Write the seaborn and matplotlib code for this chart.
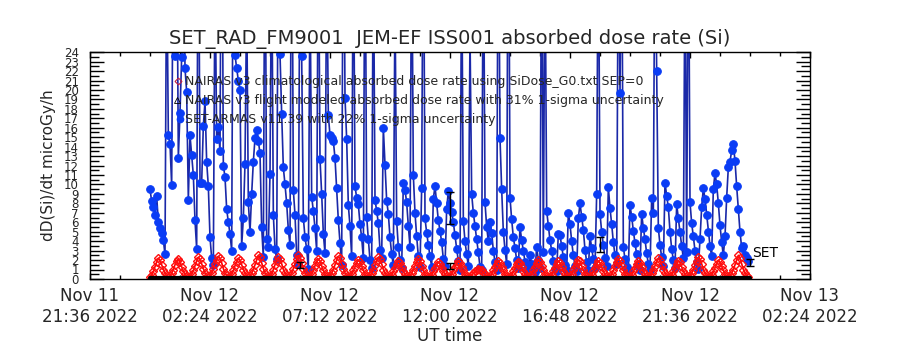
import pandas as pd
import matplotlib
matplotlib.use("Agg")
import matplotlib.pyplot as plt
import matplotlib.dates as mdates
from matplotlib.ticker import FixedLocator, MultipleLocator
import seaborn as sns

title = "SET_RAD_FM9001  JEM-EF ISS001 absorbed dose rate (Si)"
legend_labels = [
    "NAIRAS v3 climatological absorbed dose rate using SiDose_G0.txt SEP=0",
    "NAIRAS v3 flight modeled absorbed dose rate with 31% 1-sigma uncertainty",
    "SET-ARMAS v11.39 with 22% 1-sigma uncertainty",
]
x_ticks = ["2022-11-11 21:36", "2022-11-12 02:24", "2022-11-12 07:12", "2022-11-12 12:00",
           "2022-11-12 16:48", "2022-11-12 21:36", "2022-11-13 02:24"]
y_ticks = list(range(0, 25))

# SET-ARMAS dose rate, 4 min cadence starting Nov 12 00:00 (one row per hour)
set_start = "2022-11-12 00:00"
set_dose = [
    9.5, 8.2, 7.6, 6.8, 8.8, 6.0, 5.4, 4.9, 4.1, 2.6, 35, 15.2, 14.3, 9.9, 40,
    23.6, 40, 12.8, 17.6, 23.5, 38, 22.3, 19.8, 8.4, 15.2, 13.1, 11.0, 6.2, 3.2, 45,
    10.2, 10.2, 16.2, 18.8, 12.4, 9.8, 4.4, 2.2, 1.5, 33, 14.8, 16.1, 13.5, 50, 12.0,
    10.8, 7.4, 6.0, 4.8, 3.0, 42, 23.7, 22.3, 21.0, 20.0, 3.5, 6.4, 12.2, 30, 8.1,
    5.0, 9.0, 12.4, 14.9, 15.8, 14.6, 13.3, 5.5, 2.3, 44, 4.2, 3.4, 11.1, 36, 6.8,
    3.2, 2.1, 40, 23.8, 17.5, 11.8, 10.0, 8.0, 5.2, 3.6, 48, 9.4, 6.8, 2.5, 1.6,
    38, 23.6, 6.5, 4.4, 3.2, 1.1, 32, 8.7, 7.2, 5.4, 3.0, 40, 12.7, 9.0, 4.8,
    2.7, 35, 17.3, 15.2, 14.9, 14.6, 12.8, 9.6, 6.2, 3.8, 1.5, 46, 19.2, 14.8, 7.8,
    5.6, 2.4, 40, 9.8, 8.6, 7.9, 5.8, 4.4, 2.2, 42, 6.6, 4.2, 2.0, 1.2, 37,
    8.4, 7.2, 5.9, 3.1, 2.2, 16.0, 12.1, 8.3, 6.9, 4.4, 2.6, 1.5, 30, 6.1, 3.4,
    2.0, 1.2, 10.2, 9.4, 8.1, 5.6, 3.4, 38, 11.0, 7.0, 4.5, 2.4, 1.3, 9.6, 44,
    6.4, 4.9, 3.6, 2.4, 1.3, 8.5, 9.8, 8.0, 6.2, 5.1, 3.9, 2.1, 1.4, 7.4, 9.3,
    8.0, 7.1, 6.0, 4.6, 3.2, 1.9, 1.0, 35, 6.1, 4.0, 2.6, 1.4, 26, 9.0, 7.0,
    5.6, 4.2, 2.8, 1.3, 0.9, 40, 8.1, 5.5, 4.0, 6.0, 4.9, 3.0, 1.8, 1.0, 45,
    14.9, 9.5, 5.0, 3.1, 1.6, 50, 8.6, 6.3, 4.4, 3.3, 2.0, 1.2, 5.5, 4.1, 3.0,
    1.8, 1.1, 0.8, 2.5, 1.6, 1.0, 0.7, 3.4, 2.0, 1.2, 40, 2.9, 36, 7.2, 5.6,
    4.1, 3.0, 1.9, 1.1, 0.8, 4.8, 4.6, 3.5, 2.3, 1.5, 0.9, 7.0, 5.8, 4.0, 2.5,
    1.4, 0.8, 6.4, 8.0, 6.6, 5.2, 3.1, 1.8, 1.0, 4.5, 3.3, 2.1, 1.2, 9.0, 40,
    6.9, 5.0, 3.6, 2.2, 1.4, 9.7, 7.5, 5.8, 3.9, 2.5, 1.6, 38, 19.7, 40, 3.4,
    2.1, 1.3, 0.9, 7.8, 6.6, 5.1, 3.8, 2.6, 1.5, 1.0, 6.9, 5.4, 4.2, 2.7, 1.6,
    1.0, 8.6, 7.0, 40, 22.0, 5.4, 3.6, 2.3, 1.4, 10.2, 8.8, 7.6, 5.0, 3.2, 2.0,
    1.2, 7.9, 6.4, 5.0, 3.5, 2.2, 35, 2.8, 42, 8.1, 5.9, 4.5, 3.0, 1.8, 1.1,
    4.2, 7.6, 9.6, 8.5, 6.8, 5.0, 3.5, 2.4, 9.5, 11.2, 10.0, 8.0, 5.7, 3.9, 2.5,
    4.5, 8.6, 11.8, 12.4, 13.6, 14.3, 12.5, 9.8, 7.4, 5.0, 3.3, 3.5, 2.5, 2.2, 1.9,
]

# NAIRAS climatological dose rate, same cadence (one row per peak)
nairas_clim = [
    0.2, 0.4, 0.8, 1.3, 1.8, 2.2, 2.0, 1.5, 1.0, 0.6, 0.3, 0.2,
    0.3, 0.6, 1.0, 1.5, 1.9, 2.1, 1.8, 1.3, 0.8, 0.5, 0.3, 0.2,
    0.2, 0.5, 0.9, 1.4, 1.9, 2.3, 2.1, 1.6, 1.1, 0.6, 0.3, 0.2,
    0.3, 0.6, 1.1, 1.6, 2.0, 2.4, 2.2, 1.7, 1.1, 0.6, 0.4, 0.2,
    0.2, 0.5, 0.9, 1.4, 1.8, 2.2, 2.0, 1.5, 1.0, 0.6, 0.3, 0.2,
    0.3, 0.6, 1.0, 1.5, 2.0, 2.5, 2.3, 1.7, 1.1, 0.6, 0.3, 0.2,
    0.2, 0.5, 1.0, 1.5, 1.9, 2.3, 2.1, 1.6, 1.0, 0.6, 0.3, 0.2,
    0.3, 0.6, 1.1, 1.6, 2.1, 2.5, 2.2, 1.7, 1.1, 0.6, 0.3, 0.2,
    0.2, 0.5, 0.9, 1.4, 1.8, 2.1, 1.9, 1.4, 0.9, 0.5, 0.3, 0.2,
    0.3, 0.6, 1.0, 1.5, 2.0, 2.4, 2.2, 1.6, 1.1, 0.6, 0.3, 0.2,
    0.2, 0.5, 0.9, 1.3, 1.7, 2.0, 1.8, 1.4, 0.9, 0.5, 0.3, 0.2,
    0.3, 0.6, 1.0, 1.5, 1.9, 2.3, 2.1, 1.6, 1.0, 0.6, 0.3, 0.2,
    0.2, 0.4, 0.8, 1.2, 1.6, 1.9, 1.7, 1.3, 0.8, 0.5, 0.3, 0.2,
    0.3, 0.6, 1.0, 1.4, 1.8, 2.1, 1.9, 1.4, 0.9, 0.5, 0.3, 0.2,
    0.2, 0.4, 0.8, 1.2, 1.5, 1.8, 1.6, 1.2, 0.8, 0.5, 0.3, 0.2,
    0.3, 0.5, 0.9, 1.3, 1.6, 1.9, 1.7, 1.3, 0.9, 0.5, 0.3, 0.2,
    0.2, 0.4, 0.6, 0.8, 1.0, 1.1, 1.0, 0.9, 0.7, 0.5, 0.3, 0.2,
    0.3, 0.5, 0.9, 1.3, 1.6, 1.9, 1.7, 1.3, 0.9, 0.5, 0.3, 0.2,
    0.2, 0.4, 0.8, 1.2, 1.6, 1.8, 1.7, 1.3, 0.8, 0.5, 0.3, 0.2,
    0.3, 0.5, 0.9, 1.3, 1.7, 2.0, 1.8, 1.4, 0.9, 0.5, 0.3, 0.2,
    0.2, 0.4, 0.8, 1.2, 1.6, 1.9, 1.7, 1.3, 0.8, 0.5, 0.3, 0.2,
    0.3, 0.5, 0.9, 1.3, 1.7, 2.0, 1.9, 1.4, 0.9, 0.5, 0.3, 0.2,
    0.2, 0.4, 0.8, 1.2, 1.6, 1.9, 1.7, 1.3, 0.8, 0.5, 0.3, 0.2,
    0.3, 0.5, 0.9, 1.4, 1.8, 2.1, 1.9, 1.4, 0.9, 0.5, 0.3, 0.2,
    0.2, 0.4, 0.8, 1.2, 1.6, 1.9, 1.7, 1.3, 0.8, 0.5, 0.3, 0.2,
    0.3, 0.6, 1.0, 1.4, 1.8, 2.2, 2.0, 1.5, 1.0, 0.6, 0.3, 0.2,
    0.2, 0.4, 0.8, 1.2, 1.6, 1.9, 1.8, 1.3, 0.8, 0.5, 0.3, 0.2,
    0.3, 0.6, 1.0, 1.5, 1.9, 2.3, 2.1, 1.6, 1.0, 0.6, 0.3, 0.2,
    0.2, 0.4, 0.8, 1.2, 1.6, 2.0, 1.8, 1.4, 0.9, 0.5, 0.3, 0.2,
    0.3, 0.6, 1.0, 1.5, 2.0, 2.5, 2.2, 1.6, 1.0, 0.6, 0.3, 0.2,
]

# NAIRAS flight modeled dose rate, hourly from Nov 12 00:00
nairas_flight = [0.05] * 25

# SET error bars (22%)
err_times = ["2022-11-12 06:00", "2022-11-12 12:00", "2022-11-12 12:00",
             "2022-11-12 18:00", "2022-11-13 00:00"]
err_vals = [1.5, 7.5, 1.4, 3.6, 1.7]
err_size = [0.33, 1.65, 0.31, 0.79, 0.37]

sns.set_theme(style="ticks")
plt.rcParams["font.family"] = ["DejaVu Sans"]

set_df = pd.DataFrame({"time": pd.date_range(set_start, periods=len(set_dose), freq="4min"),
                       "dose": set_dose})
clim_df = pd.DataFrame({"time": pd.date_range(set_start, periods=len(nairas_clim), freq="4min"),
                        "dose": nairas_clim})
flight_df = pd.DataFrame({"time": pd.date_range(set_start, periods=len(nairas_flight), freq="60min"),
                          "dose": nairas_flight})

fig = plt.figure(figsize=(9, 3.5), dpi=100)
ax = fig.add_axes([0.1, 0.203, 0.8, 0.648])

sns.lineplot(data=set_df, x="time", y="dose", ax=ax, sort=False, estimator=None,
             color="#1a28a8", lw=1.2, marker="o", markersize=5.5,
             markerfacecolor="#0a3cf5", markeredgecolor="#0a3cf5")
sns.lineplot(data=clim_df, x="time", y="dose", ax=ax, sort=False, estimator=None,
             color="#ff0000", lw=1.2, marker="D", markersize=4.5,
             markerfacecolor="none", markeredgecolor="#ff1010", markeredgewidth=1)
sns.lineplot(data=flight_df, x="time", y="dose", ax=ax, sort=False, estimator=None,
             color="black", lw=3)
ax.errorbar(pd.to_datetime(err_times), err_vals, yerr=err_size, fmt="none",
            ecolor="black", elinewidth=1, capsize=3)
ax.text(pd.Timestamp("2022-11-13 00:05"), 2.3, "SET", fontsize=10, color="black")

ax.set_ylim(0, 24)
ax.set_xlim(pd.Timestamp(x_ticks[0]), pd.Timestamp(x_ticks[-1]))
ax.xaxis.set_major_locator(FixedLocator(mdates.date2num(pd.to_datetime(x_ticks))))
ax.xaxis.set_minor_locator(FixedLocator(mdates.date2num(
    pd.date_range(x_ticks[0], x_ticks[-1], freq="72min"))))
ax.xaxis.set_major_formatter(mdates.DateFormatter("%b %d\n%H:%M %Y"))
ax.set_yticks(y_ticks)
ax.yaxis.set_minor_locator(MultipleLocator(0.5))

ax.tick_params(axis="both", which="both", direction="in", top=True, right=True,
               color="black", width=1)
ax.tick_params(axis="y", which="major", length=10, pad=8, labelsize=8.5)
ax.tick_params(axis="y", which="minor", length=6.5)
ax.tick_params(axis="x", which="major", length=4, pad=6, labelsize=12)
ax.tick_params(axis="x", which="minor", length=3)
for sp in ax.spines.values():
    sp.set_color("black")
    sp.set_linewidth(1)

ax.set_xlabel("UT time", fontsize=12, labelpad=1)
ax.set_ylabel("dD(Si)/dt microGy/h", fontsize=11, labelpad=6)
ax.set_title(title, fontsize=14, pad=6)

# legend drawn inside the axes
leg_y = [0.872, 0.789, 0.705]
ax.plot([0.122], [leg_y[0]], transform=ax.transAxes, marker="D", ms=3.5,
        mfc="none", mec="#c02040", mew=0.8, ls="none")
ax.plot([0.121], [leg_y[1]], transform=ax.transAxes, marker="^", ms=4.5,
        mfc="none", mec="black", mew=0.6, ls="none")
ax.plot([0.125], [leg_y[2]], transform=ax.transAxes, marker="o", ms=4.5,
        mfc="#0a3cf5", mec="#0a3cf5", ls="none")
for yy, lab in zip(leg_y, legend_labels):
    ax.text(0.132, yy, lab, transform=ax.transAxes, fontsize=9, va="center", ha="left")

fig.savefig("out.png", dpi=100)
